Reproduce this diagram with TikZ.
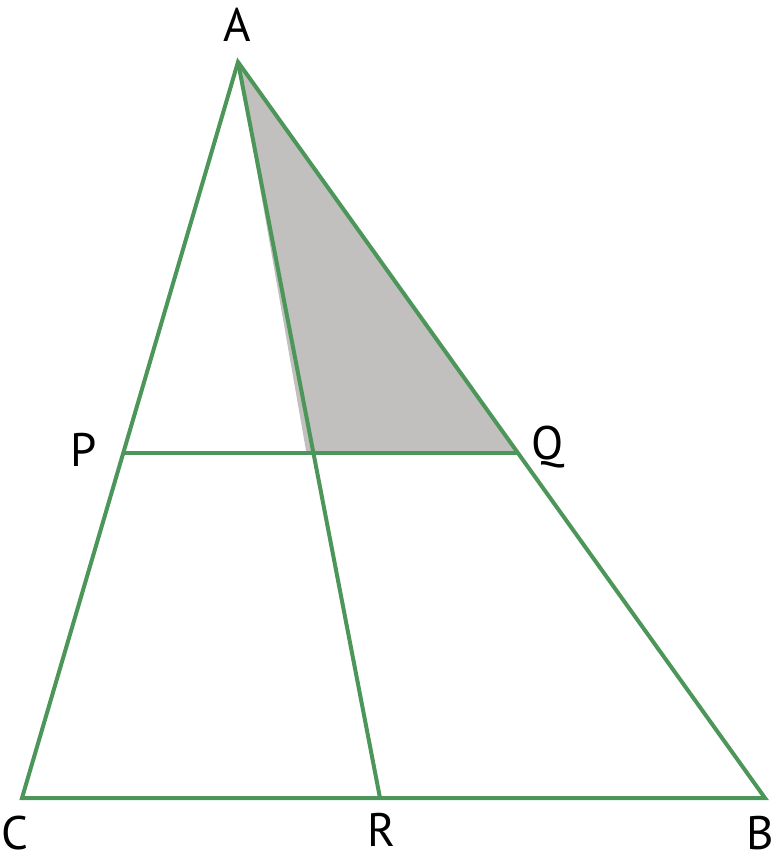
\documentclass[tikz,border=0pt]{standalone}
\usepackage{fontspec}
\setmainfont{PT Sans}
\usetikzlibrary{calc}
\definecolor{edgegreen}{RGB}{77,150,90}
\definecolor{shadegray}{RGB}{193,192,191}

\begin{document}
\begin{tikzpicture}[x=0.5pt,y=-0.5pt,
	every node/.style={
		inner sep=0pt,
		font=\fontsize{23.5}{28}\selectfont
	},
	side/.style={draw=edgegreen, line width=2pt}
]
\useasboundingbox (0,0) rectangle (776,863);

\coordinate (A) at (238,62);
\coordinate (C) at (22,798);
\coordinate (B) at (765,798);
\coordinate (R) at (380,798);
\coordinate (P) at ($(A)!0.531!(C)$);
\coordinate (Q) at ($(A)!0.531!(B)$);
\coordinate (X) at (intersection of A--R and P--Q);
\coordinate (Y) at ($(X)+(-7,0)$);

\fill[shadegray] (A) -- (Y) -- (Q) -- cycle;

\draw[side] (A) -- (C) -- (B) -- cycle;
\draw[side] (P) -- (Q);
\draw[side] (A) -- (R);

\node (LA) at (237,25) {A};
\node (LP) at (84,450) {P};
\node (LQ) at (548,447) {Q};
\node (LC) at (15,833) {C};
\node (LR) at (381,830) {R};
\node (LB) at (760,833) {B};
\end{tikzpicture}
\end{document}
